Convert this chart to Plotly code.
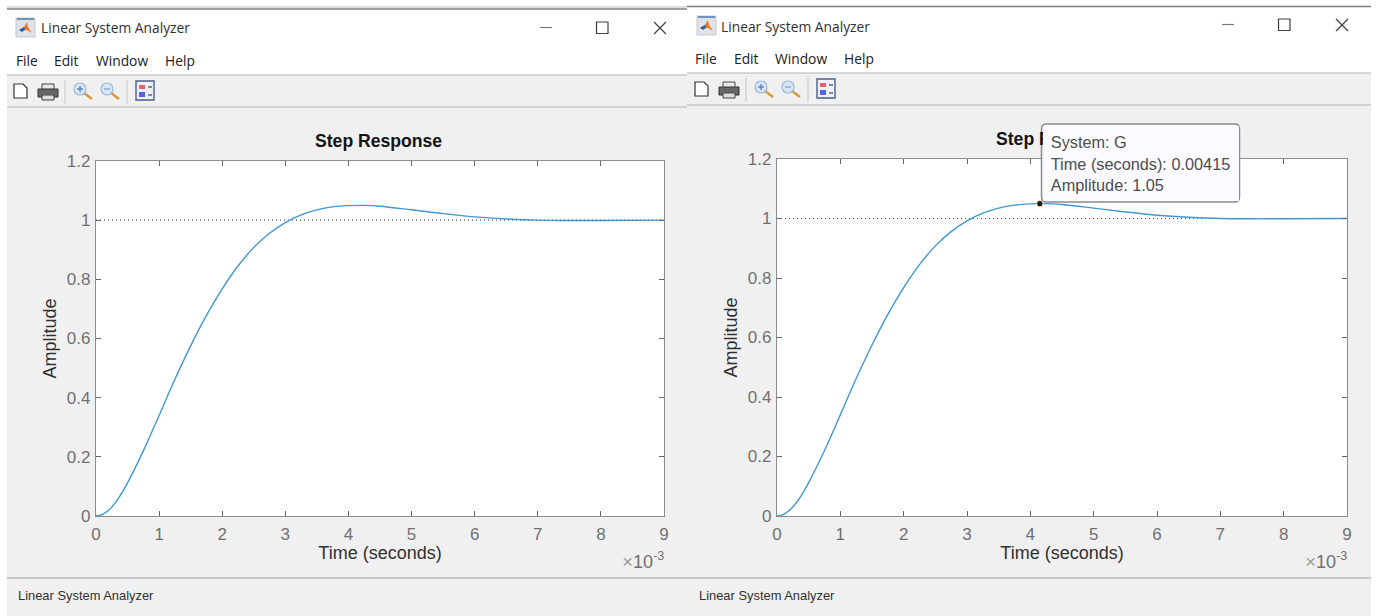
import plotly.graph_objects as go

# ---- data ----
time_ms = [0, 0.06, 0.125, 0.25, 0.375, 0.5, 0.75, 1.0, 1.25, 1.5, 1.75, 2.0, 2.25, 2.5, 2.75, 3.0, 3.25, 3.5, 3.75, 4.0, 4.25, 4.5,
           5.0, 5.5, 6.0, 6.5, 7.0, 7.5, 8.0, 9.0]
amplitude = [0, 0.002, 0.008, 0.03, 0.066, 0.112, 0.22, 0.34, 0.462, 0.575, 0.678, 0.768, 0.845, 0.908, 0.956, 0.992, 1.018, 1.035, 1.045, 1.049, 1.05, 1.047,
             1.035, 1.022, 1.011, 1.004, 1.0, 0.999, 0.999, 1.0]
steady_state = [1, 1]
steady_time = [0, 9]
x_ticks = [0, 1, 2, 3, 4, 5, 6, 7, 8, 9]
y_ticks = [0, 0.2, 0.4, 0.6, 0.8, 1, 1.2]
y_tick_labels = ["0", "0.2", "0.4", "0.6", "0.8", "1", "1.2"]
menu_items = ["File", "Edit", "Window", "Help"]
window_title = "Linear System Analyzer"
tip_time = [4.15]
tip_amp = [1.05]
tip_lines = ["System: G", "Time (seconds): 0.00415", "Amplitude: 1.05"]

W, H = 1377, 616
SANS = "Liberation Sans, Arial, sans-serif"
UI = "Open Sans, Noto Sans, sans-serif"
GREY = "#f0f0f0"

def X(p): return p / W
def Y(p): return 1 - p / H

shapes = []
annots = []

def rect(x0, y0, x1, y1, fill=None, line=None, lw=1, layer="below"):
    shapes.append(dict(type="rect", xref="paper", yref="paper", x0=X(x0), x1=X(x1), y0=Y(y0), y1=Y(y1),
                       fillcolor=fill or "rgba(0,0,0,0)", line=dict(color=line or "rgba(0,0,0,0)", width=lw if line else 0),
                       layer=layer))

def seg(x0, y0, x1, y1, color, lw=1, layer="below"):
    shapes.append(dict(type="line", xref="paper", yref="paper", x0=X(x0), x1=X(x1), y0=Y(y0), y1=Y(y1),
                       line=dict(color=color, width=lw), layer=layer))

def poly(points, fill=None, line=None, lw=1, close=True, layer="below"):
    path = "M " + " L ".join(f"{X(a):.5f},{Y(b):.5f}" for a, b in points) + (" Z" if close else "")
    shapes.append(dict(type="path", xref="paper", yref="paper", path=path, fillcolor=fill or "rgba(0,0,0,0)",
                       line=dict(color=line or "rgba(0,0,0,0)", width=lw if line else 0), layer=layer))

def circle(cx, cy, r, fill, line, lw=1):
    shapes.append(dict(type="circle", xref="paper", yref="paper", x0=X(cx - r), x1=X(cx + r), y0=Y(cy + r), y1=Y(cy - r),
                       fillcolor=fill, line=dict(color=line, width=lw), layer="below"))

def text(x, y, s, size, color, font=SANS, xanchor="left", yanchor="middle", bold=False):
    annots.append(dict(xref="paper", yref="paper", x=X(x), y=Y(y), text=f"<b>{s}</b>" if bold else s, showarrow=False,
                       xanchor=xanchor, yanchor=yanchor, align="left", borderpad=0,
                       font=dict(size=size, color=color, family=font)))

def window(x0, x1, top, menu_sep, tool_sep, dx, dy, tdx, bdx, bdy):
    rect(x0, 0, x1, menu_sep, fill="#ffffff")
    seg(x0, top, x1, top, "#7f7f7f", 1.5)
    seg(x0, menu_sep, x1, menu_sep, "#b4b4b4", 1.2)
    seg(x0, tool_sep, x1, tool_sep, "#b4b4b4", 1.2)
    seg(x0, 578, x1, 578, "#a3a3a3", 1)
    # app icon
    rect(16 + dx, 18 + dy, 35 + dx, 37 + dy, fill="#dfe3e8", line="#c4c8cc")
    rect(17 + dx, 18 + dy, 34 + dx, 20 + dy, fill="#6f93bd")
    poly([(19 + dx, 30 + dy), (24 + dx, 27 + dy), (27 + dx, 22 + dy), (28 + dx, 27 + dy), (32 + dx, 33 + dy), (27 + dx, 30 + dy)], fill="#e8762d")
    poly([(19 + dx, 30 + dy), (24 + dx, 27 + dy), (25 + dx, 30 + dy), (22 + dx, 32 + dy)], fill="#2f5f9e")
    text(39.5 + tdx, 28 + dy, window_title, 13.8, "#303030", UI)
    for name, mx in zip(menu_items, [14.5, 52.5, 94.5, 163.5]):
        text(mx + tdx, 61 + dy, name, 13.8, "#202020", UI)
    # window buttons
    seg(540 + bdx, 27.5 + bdy, 552 + bdx, 27.5 + bdy, "#777777", 1.2)
    rect(596.5 + bdx, 22 + bdy, 608 + bdx, 33.5 + bdy, line="#404040", lw=1.2)
    seg(654 + bdx, 22 + bdy, 666 + bdx, 34 + bdy, "#444444", 1.2)
    seg(654 + bdx, 34 + bdy, 666 + bdx, 22 + bdy, "#444444", 1.2)
    # new file
    poly([(14 + dx, 84 + dy), (23 + dx, 84 + dy), (27 + dx, 88 + dy), (27 + dx, 98 + dy), (14 + dx, 98 + dy)], fill="#ffffff", line="#333333", lw=1.2)
    # printer
    rect(42 + dx, 84 + dy, 54 + dx, 90 + dy, fill="#e8e8e8", line="#444444", lw=1)
    rect(38 + dx, 89 + dy, 58 + dx, 97 + dy, fill="#666666", line="#333333", lw=1)
    rect(42 + dx, 95 + dy, 54 + dx, 100 + dy, fill="#dddddd", line="#444444", lw=1)
    # separators
    seg(65 + dx, 80 + dy, 65 + dx, 104 + dy, "#c4c4c4", 1)
    seg(127 + dx, 80 + dy, 127 + dx, 104 + dy, "#c4c4c4", 1)
    # zoom glasses
    for zx, col, sym in [(80, "#5b83c0", "+"), (107, "#8aa5cc", "-")]:
        seg(zx + 4 + dx, 93 + dy, zx + 12 + dx, 99 + dy, "#d99a3e", 2.5)
        circle(zx + dx, 89 + dy, 6, "#d6e6f6", "#9db8d8", 1.2)
        seg(zx - 3 + dx, 89 + dy, zx + 3 + dx, 89 + dy, col, 1.4)
        if sym == "+":
            seg(zx + dx, 86 + dy, zx + dx, 92 + dy, col, 1.4)
    # legend icon
    rect(136 + dx, 81 + dy, 154 + dx, 100 + dy, fill="#eef2f8", line="#4a5f8a", lw=1.4)
    rect(139 + dx, 85 + dy, 145 + dx, 89 + dy, fill="#e8606a")
    rect(139 + dx, 92 + dy, 145 + dx, 97 + dy, fill="#5a62e0")
    seg(148 + dx, 87 + dy, 152 + dx, 87 + dy, "#444444", 1.2)
    seg(148 + dx, 95 + dy, 152 + dx, 95 + dy, "#444444", 1.2)
    # status bar
    text(16.5 + dx, 595, window_title, 12.9, "#303030", SANS)

# outer page
rect(0, 0, 7, H, fill="#ffffff")
rect(1371, 0, W, H, fill="#ffffff")
window(7, 687, 9, 75, 107, 0, 0, 0.5, 0, 0)
seg(7, 7, 687, 7, "#dedede", 2)
window(687, 1371, 6.5, 73, 105, 681, -2, 680, 682, -3)

# plot titles and axis exponents
text(379, 140.5, "Step Response", 17.6, "#141414", SANS, xanchor="center", bold=True)
text(1059, 138.5, "Step Response", 17.6, "#141414", SANS, xanchor="center", bold=True)
for right, ytxt in [(665, 560), (1348, 560)]:
    text(right, ytxt, "<span style='color:#a0a0a0;font-size:19px'>×</span>10<sup>-3</sup>", 18, "#707070", SANS, xanchor="right")

# tooltip: rounded outline, then a filled text box on top that hides the covered title
x0, x1, y0, y1, r = 1041.5, 1239.5, 124, 202, 5
path = (f"M {X(x0 + r)},{Y(y0)} L {X(x1 - r)},{Y(y0)} Q {X(x1)},{Y(y0)} {X(x1)},{Y(y0 + r)} "
        f"L {X(x1)},{Y(y1 - r)} Q {X(x1)},{Y(y1)} {X(x1 - r)},{Y(y1)} L {X(x0 + r)},{Y(y1)} "
        f"Q {X(x0)},{Y(y1)} {X(x0)},{Y(y1 - r)} L {X(x0)},{Y(y0 + r)} Q {X(x0)},{Y(y0)} {X(x0 + r)},{Y(y0)} Z")
shapes.append(dict(type="path", xref="paper", yref="paper", path=path, fillcolor="#fafaff",
                   line=dict(color="#8c8c8c", width=1.5), layer="above"))
PAD = "&nbsp;&#8201;"
annots.append(dict(xref="paper", yref="paper", x=X(x0 + 1), y=Y(y0 + 1.5), xanchor="left", yanchor="top",
                   width=x1 - x0 - 2, height=y1 - y0 - 3, align="left", valign="middle", borderpad=0, borderwidth=0,
                   bgcolor="#fafaff", showarrow=False,
                   text=PAD + ("<br>" + PAD).join(tip_lines),
                   font=dict(size=16.3, color="#4d4d4d", family=SANS)))

fig = go.Figure()
CURVE = "#3f97d3"
for xa, ya in [("x", "y"), ("x2", "y2")]:
    fig.add_trace(go.Scatter(x=steady_time, y=steady_state, mode="lines", xaxis=xa, yaxis=ya, hoverinfo="skip",
                             line=dict(color="#555555", width=1.2, dash="1px 3px")))
    fig.add_trace(go.Scatter(x=time_ms, y=amplitude, mode="lines", xaxis=xa, yaxis=ya, hoverinfo="skip",
                             line=dict(color=CURVE, width=1.4, shape="spline", smoothing=1.0)))
fig.add_trace(go.Scatter(x=tip_time, y=tip_amp, mode="markers", xaxis="x2", yaxis="y2", hoverinfo="skip", cliponaxis=False,
                         marker=dict(size=6.5, color="#1c1c1c", line=dict(color="#f5f0c0", width=1))))

def xaxis(d0, d1, anchor):
    return dict(domain=[X(d0), X(d1)], range=[0, 9], anchor=anchor, tickvals=x_ticks, ticktext=[str(v) for v in x_ticks],
                ticks="inside", ticklen=5, tickwidth=1, tickcolor="#666666", mirror="ticks", showline=True,
                linecolor="#8c8c8c", linewidth=1.2, showgrid=False, zeroline=False, automargin=False,
                ticklabelstandoff=2,
                tickfont=dict(size=17, color="#707070", family=SANS),
                title=dict(text="Time (seconds)", font=dict(size=18, color="#303030", family=SANS), standoff=3))

def yaxis(d0, d1, anchor):
    return dict(domain=[Y(d1), Y(d0)], range=[0, 1.2], anchor=anchor, tickvals=y_ticks, ticktext=y_tick_labels,
                ticks="inside", ticklen=5, tickwidth=1, tickcolor="#666666", mirror="ticks", showline=True,
                linecolor="#8c8c8c", linewidth=1.2, showgrid=False, zeroline=False, automargin=False,
                ticklabelstandoff=1,
                tickfont=dict(size=17, color="#707070", family=SANS),
                title=dict(text="Amplitude", font=dict(size=18, color="#303030", family=SANS), standoff=5))

fig.update_layout(width=W, height=H, autosize=False, margin=dict(l=0, r=0, t=0, b=0), showlegend=False,
                  paper_bgcolor=GREY, plot_bgcolor="#ffffff",
                  xaxis=xaxis(96, 664, "y"), yaxis=yaxis(161, 516, "x"),
                  xaxis2=xaxis(777, 1347, "y2"), yaxis2=yaxis(159, 516, "x2"),
                  shapes=shapes, annotations=annots)

fig.write_html("out.html", config=dict(displayModeBar=False),
               post_script="document.body.style.margin='0';document.body.style.overflow='hidden';")
